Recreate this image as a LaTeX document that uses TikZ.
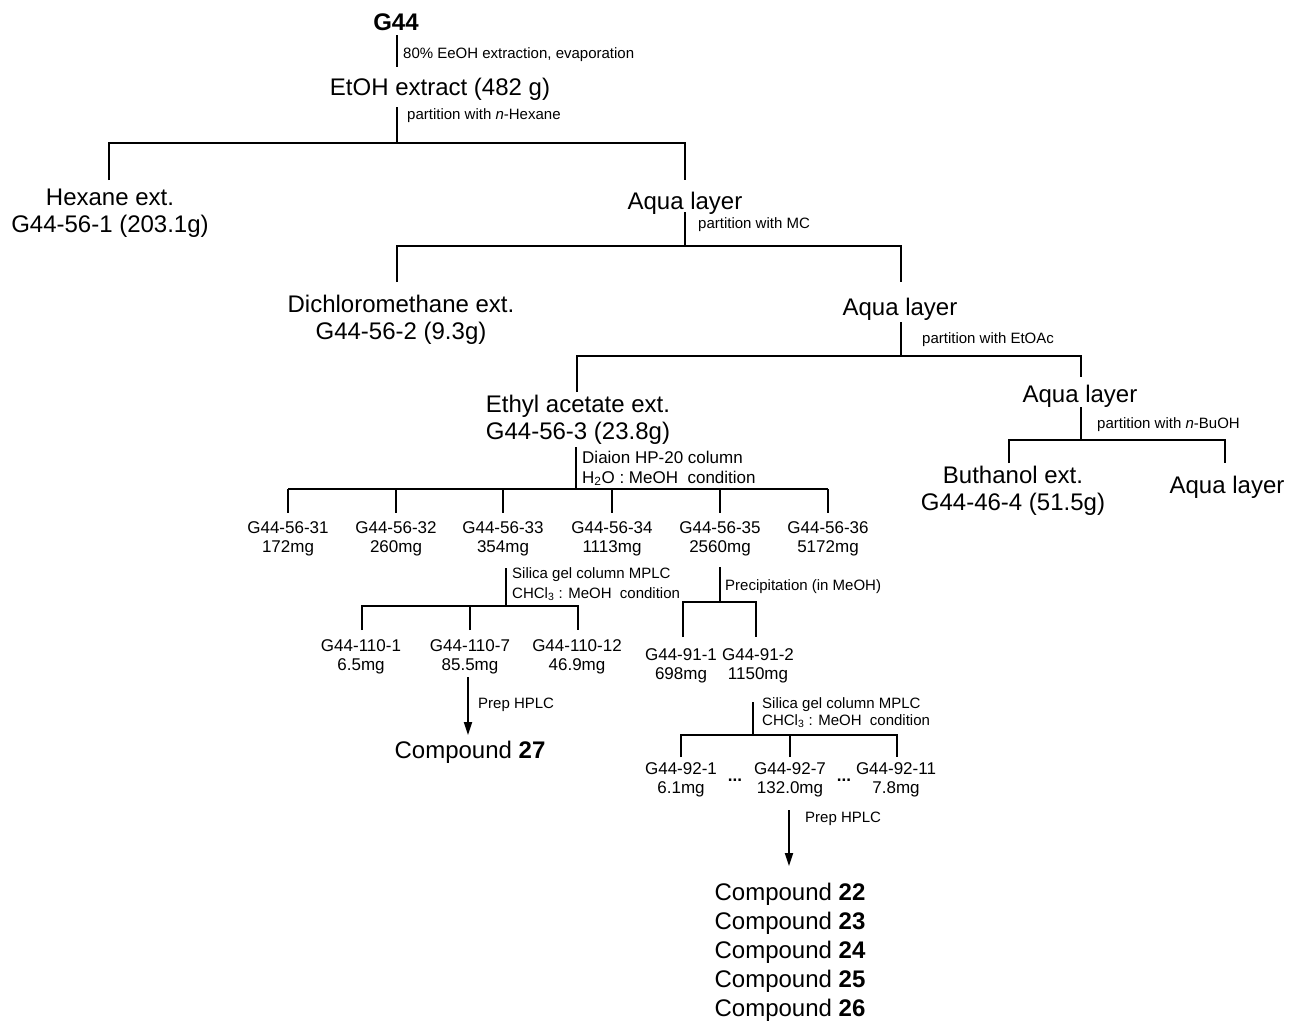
\documentclass[tikz,border=0pt]{standalone}
\usepackage{fontspec}
\setmainfont{Liberation Sans}
\usepackage{tikz}
\usetikzlibrary{arrows.meta}

\tikzset{
    big/.style={font=\fontsize{24}{27}\selectfont, anchor=base, inner sep=0pt, align=center},
    mid/.style={font=\fontsize{17}{18.5}\selectfont, anchor=base, inner sep=0pt, align=center},
    note/.style={font=\fontsize{15}{18}\selectfont, anchor=base west, inner sep=0pt, align=left},
    link/.style={line width=1.3pt},
    flow/.style={line width=1.8pt, -{Triangle[length=13pt,width=8pt]}}
}

\begin{document}
\begin{tikzpicture}[x=1pt, y=-1pt]
    \useasboundingbox (0,0) rectangle (1302,1026);

    % main partition steps
    \node[big] (g44) at (396,30) {\textbf{G44}};
    \node[big] (etoh) at (440,95) {EtOH extract (482 g)};
    \node[big] (hex) at (110,232) {Hexane ext.\\G44-56-1 (203.1g)};
    \node[big] (aqa) at (685,209) {Aqua layer};
    \node[big] (dcm) at (401,339) {Dichloromethane ext.\\G44-56-2 (9.3g)};
    \node[big] (aqb) at (900,315) {Aqua layer};
    \node[big] (ethyl) at (578,439) {Ethyl acetate ext.\\G44-56-3 (23.8g)};
    \node[big] (aqc) at (1080,402) {Aqua layer};
    \node[big] (butol) at (1013,510) {Buthanol ext.\\G44-46-4 (51.5g)};
    \node[big] (aqd) at (1227,493) {Aqua layer};

    \coordinate (a1) at (397,35);  \coordinate (a2) at (397,67);
    \draw[link] (a1) -- (a2);
    \node[note] (na) at (403,58) {80\% EeOH extraction, evaporation};

    \coordinate (b0) at (397,107); \coordinate (b1) at (397,143);
    \coordinate (bl) at (109,180); \coordinate (br) at (685,180);
    \draw[link] (b0) -- (b1) (bl) |- (b1) -| (br);
    \node[note] (nb) at (407,119) {partition with \textit{n}-Hexane};

    \coordinate (c0) at (685,212); \coordinate (c1) at (685,246);
    \coordinate (cl) at (397,282); \coordinate (cr) at (901,282);
    \draw[link] (c0) -- (c1) (cl) |- (c1) -| (cr);
    \node[note] (nc) at (698,228) {partition with MC};

    \coordinate (d0) at (901,322); \coordinate (d1) at (901,356);
    \coordinate (dl) at (577,392); \coordinate (dr) at (1081,377);
    \draw[link] (d0) -- (d1) (dl) |- (d1) -| (dr);
    \node[note] (nd) at (922,343) {partition with EtOAc};

    \coordinate (e0) at (1081,407); \coordinate (e1) at (1081,440);
    \coordinate (el) at (1009,463); \coordinate (er) at (1225,463);
    \draw[link] (e0) -- (e1) (el) |- (e1) -| (er);
    \node[note] (ne) at (1097,428) {partition with \textit{n}-BuOH};

    % Diaion fractions
    \coordinate (f0) at (576,447); \coordinate (f1) at (576,489);
    \draw[link] (f0) -- (f1) (288,489) -- (828,489);
    \foreach \fx/\fn/\fm in {288/31/172, 396/32/260, 503/33/354,
                             612/34/1113, 720/35/2560, 828/36/5172} {
        \draw[link] (\fx,489) -- (\fx,513);
        \node[mid] (fr\fn) at (\fx,552) {G44-56-\fn\\\fm mg};
    }
    \node[note, font=\fontsize{17}{19.5}\selectfont] (nf) at (582,483)
        {Diaion HP-20 column\\H\textsubscript{2}O : MeOH\ \ condition};

    % silica gel of G44-56-33
    \coordinate (g0) at (506,568); \coordinate (g1) at (506,606);
    \coordinate (gl) at (362,630); \coordinate (gm) at (470,630); \coordinate (gr) at (578,630);
    \draw[link] (g0) -- (g1) (gl) |- (g1) -| (gr) (gm) -- (gm |- g1);
    \node[note, font=\fontsize{15}{20}\selectfont] (ng) at (512,598)
        {Silica gel column MPLC\\CHCl\textsubscript{3} : MeOH\ \ condition};
    \node[mid] (sa) at (361,670) {G44-110-1\\6.5mg};
    \node[mid] (sb) at (470,670) {G44-110-7\\85.5mg};
    \node[mid] (sc) at (577,670) {G44-110-12\\46.9mg};

    \coordinate (ha) at (468,677); \coordinate (hb) at (468,735);
    \draw[flow] (ha) -- (hb);
    \node[note] (nh) at (478,708) {Prep HPLC};
    \node[big] (c27) at (470,758) {Compound \textbf{27}};

    % precipitation of G44-56-35
    \coordinate (p0) at (720,567); \coordinate (p1) at (720,602);
    \coordinate (pl) at (683,637); \coordinate (pr) at (756,637);
    \draw[link] (p0) -- (p1) (pl) |- (p1) -| (pr);
    \node[note] (np) at (725,590) {Precipitation (in MeOH)};
    \node[mid] (pa) at (681,679) {G44-91-1\\698mg};
    \node[mid] (pb) at (758,679) {G44-91-2\\1150mg};

    % silica gel of G44-91-2
    \coordinate (q0) at (753,702); \coordinate (q1) at (753,735);
    \coordinate (ql) at (681,757); \coordinate (qm) at (790,757); \coordinate (qr) at (897,757);
    \draw[link] (q0) -- (q1) (ql) |- (q1) -| (qr) (qm) -- (qm |- q1);
    \node[note, font=\fontsize{15}{17}\selectfont] (nq) at (762,725)
        {Silica gel column MPLC\\CHCl\textsubscript{3} : MeOH\ \ condition};
    \node[mid] (qa) at (681,793) {G44-92-1\\6.1mg};
    \node[mid] (qb) at (790,793) {G44-92-7\\132.0mg};
    \node[mid] (qc) at (896,793) {G44-92-11\\7.8mg};
    \node[mid] (qd1) at (735,781) {\textbf{...}};
    \node[mid] (qd2) at (844,781) {\textbf{...}};

    \coordinate (ka) at (789,810); \coordinate (kb) at (789,866);
    \draw[flow] (ka) -- (kb);
    \node[note] (nk) at (805,822) {Prep HPLC};
    \node[big, font=\fontsize{24}{29}\selectfont] (cmp) at (790,1016)
        {Compound \textbf{22}\\Compound \textbf{23}\\Compound \textbf{24}\\Compound \textbf{25}\\Compound \textbf{26}};
\end{tikzpicture}
\end{document}
